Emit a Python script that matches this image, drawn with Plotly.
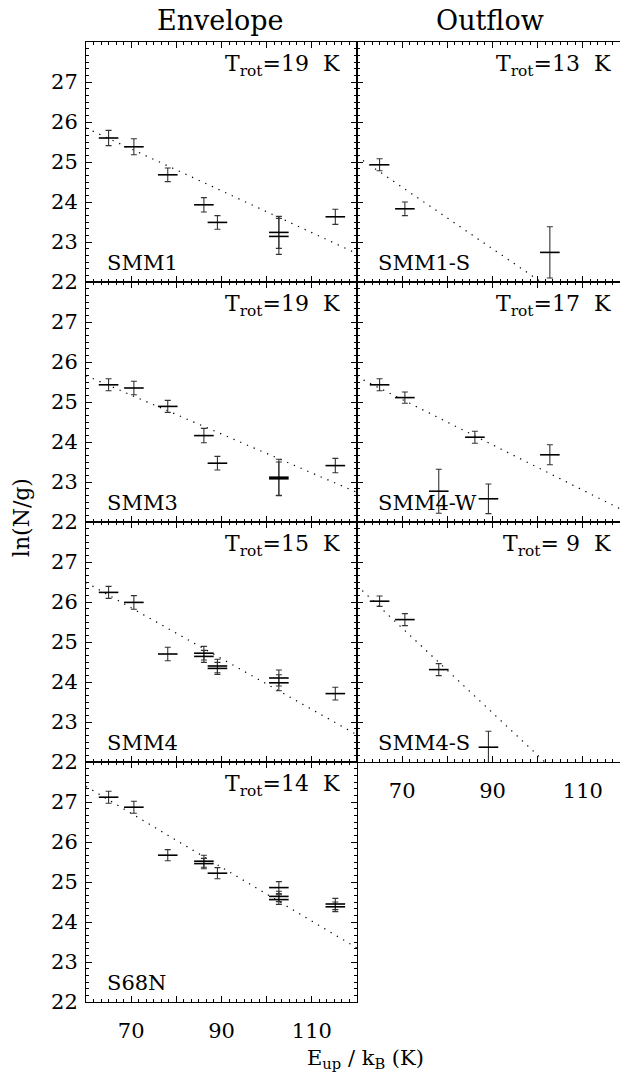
import plotly.graph_objects as go
from plotly.subplots import make_subplots

# ---------------- data ----------------
fit_E = [60, 120]

smm1_E = [65.0, 70.6, 78.1, 86.1, 89.1, 102.7, 102.7, 115.2]
smm1_ln = [25.60, 25.38, 24.68, 23.93, 23.49, 23.24, 23.14, 23.63]
smm1_err = [0.19, 0.20, 0.17, 0.18, 0.17, 0.40, 0.45, 0.19]
smm1_fit = [25.85, 22.71]

smm1s_E = [65.0, 70.6, 102.7]
smm1s_ln = [24.93, 23.83, 22.74]
smm1s_err = [0.15, 0.17, 0.64]
smm1s_fit = [25.14, 20.52]

smm3_E = [65.0, 70.6, 78.1, 86.1, 89.1, 102.7, 102.7, 115.2]
smm3_ln = [25.43, 25.35, 24.89, 24.16, 23.47, 23.12, 23.08, 23.41]
smm3_err = [0.15, 0.17, 0.15, 0.18, 0.17, 0.45, 0.42, 0.18]
smm3_fit = [25.66, 22.74]

smm4w_E = [65.0, 70.6, 78.1, 86.1, 89.1, 102.7]
smm4w_ln = [25.43, 25.11, 22.77, 24.12, 22.58, 23.68]
smm4w_err = [0.15, 0.14, 0.55, 0.15, 0.37, 0.25]
smm4w_fit = [25.63, 22.23]

smm4_E = [65.0, 70.6, 78.1, 86.1, 86.1, 89.1, 89.1, 102.7, 102.7, 115.2]
smm4_ln = [26.24, 25.99, 24.70, 24.72, 24.64, 24.40, 24.34, 24.10, 23.98, 23.71]
smm4_err = [0.15, 0.17, 0.17, 0.17, 0.15, 0.17, 0.15, 0.20, 0.20, 0.16]
smm4_fit = [26.49, 22.68]

smm4s_E = [65.0, 70.6, 78.1, 89.1]
smm4s_ln = [26.02, 25.56, 24.31, 22.37]
smm4s_err = [0.13, 0.15, 0.15, 0.40]
smm4s_fit = [26.41, 20.05]

s68n_E = [65.0, 70.6, 78.1, 86.1, 86.1, 89.1, 102.7, 102.7, 102.7, 115.2, 115.2]
s68n_ln = [27.12, 26.87, 25.67, 25.52, 25.46, 25.22, 24.86, 24.64, 24.56, 24.45, 24.38]
s68n_err = [0.15, 0.15, 0.14, 0.15, 0.13, 0.14, 0.15, 0.13, 0.12, 0.14, 0.12]
s68n_fit = [27.39, 23.35]

panel_names = ["SMM1", "SMM1-S", "SMM3", "SMM4-W", "SMM4", "SMM4-S", "S68N"]
panel_trot = ["19", "13", "19", "17", "15", " 9", "14"]
panel_pos = [(1, 1), (1, 2), (2, 1), (2, 2), (3, 1), (3, 2), (4, 1)]
panel_data = [
    (smm1_E, smm1_ln, smm1_err, smm1_fit),
    (smm1s_E, smm1s_ln, smm1s_err, smm1s_fit),
    (smm3_E, smm3_ln, smm3_err, smm3_fit),
    (smm4w_E, smm4w_ln, smm4w_err, smm4w_fit),
    (smm4_E, smm4_ln, smm4_err, smm4_fit),
    (smm4s_E, smm4s_ln, smm4s_err, smm4s_fit),
    (s68n_E, s68n_ln, s68n_err, s68n_fit),
]

x_tickvals = [70, 80, 90, 100, 110]
x_ticktext = ["70", "", "90", "", "110"]
y_tickvals = [22, 23, 24, 25, 26, 27]

FONT = "DejaVu Serif"

fig = make_subplots(rows=4, cols=2, horizontal_spacing=0, vertical_spacing=0,
                    specs=[[{}, {}], [{}, {}], [{}, {}], [{}, None]])

for i, (name, trot, (r, c), (E, ln, err, fit)) in enumerate(
        zip(panel_names, panel_trot, panel_pos, panel_data)):
    fig.add_trace(go.Scatter(x=fit_E, y=fit, mode="lines",
                             line=dict(color="black", width=1.2, dash="1.3px,6px"),
                             showlegend=False, hoverinfo="skip"), row=r, col=c)
    fig.add_trace(go.Scatter(x=E, y=ln, mode="markers",
                             marker=dict(symbol="line-ew", size=14, color="black",
                                         line=dict(color="black", width=1.6)),
                             error_y=dict(type="data", array=err, visible=True,
                                          color="#333333", thickness=1.1, width=3),
                             showlegend=False, cliponaxis=True), row=r, col=c)
    show_x = (r == 4 and c == 1) or (r == 3 and c == 2)
    fig.update_xaxes(range=[60, 120], tickvals=x_tickvals, ticktext=x_ticktext,
                     showticklabels=show_x, ticks="inside", ticklen=6, tickwidth=1,
                     tickcolor="black", mirror="allticks", showline=True,
                     linecolor="black", linewidth=1, showgrid=False, zeroline=False,
                     minor=dict(dtick=10 / 6, tick0=60, ticks="inside", ticklen=3,
                                tickcolor="black", tickwidth=1),
                     tickfont=dict(family=FONT, size=21, color="black"),
                     ticklabelstandoff=10,
                     row=r, col=c)
    fig.update_yaxes(range=[22, 28], tickvals=y_tickvals,
                     showticklabels=(c == 1), ticks="inside", ticklen=6, tickwidth=1,
                     tickcolor="black", mirror="allticks", showline=True,
                     linecolor="black", linewidth=1, showgrid=False, zeroline=False,
                     minor=dict(dtick=1 / 6, tick0=22, ticks="inside", ticklen=3,
                                tickcolor="black", tickwidth=1),
                     tickfont=dict(family=FONT, size=21, color="black"),
                     ticklabelstandoff=3,
                     row=r, col=c)
    ax = "" if i == 0 else str(i + 1)
    fig.add_annotation(xref=f"x{ax} domain", yref=f"y{ax} domain", x=0.07, y=0.08,
                       xanchor="left", yanchor="middle", showarrow=False,
                       text=name, font=dict(family=FONT, size=21, color="black"))
    fig.add_annotation(xref=f"x{ax} domain", yref=f"y{ax} domain", x=0.945, y=0.97,
                       xanchor="right", yanchor="top", showarrow=False,
                       text=f"T<sub>rot</sub>={trot}  K",
                       font=dict(family=FONT, size=22, color="black"))

fig.add_annotation(xref="paper", yref="paper", x=0.247, y=1.022, xanchor="center",
                   yanchor="middle", showarrow=False, text="Envelope",
                   font=dict(family=FONT, size=27, color="black"))
fig.add_annotation(xref="paper", yref="paper", x=0.745, y=1.022, xanchor="center",
                   yanchor="middle", showarrow=False, text="Outflow",
                   font=dict(family=FONT, size=27, color="black"))
fig.add_annotation(xref="paper", yref="paper", x=-0.12, y=0.505, xanchor="center",
                   yanchor="middle", showarrow=False, text="ln(N/g)", textangle=-90,
                   font=dict(family=FONT, size=22, color="black"))
fig.add_annotation(xref="paper", yref="paper", x=0.515, y=-0.059, xanchor="center",
                   yanchor="middle", showarrow=False,
                   text="E<sub>up</sub> / k<sub>B</sub> (K)",
                   font=dict(family=FONT, size=21, color="black"))

# the page body adds an 8px offset, so the figure is sized to fit the window
fig.update_layout(width=620, height=1073, paper_bgcolor="white", plot_bgcolor="white",
                  margin=dict(l=78, r=0, t=34, b=79), showlegend=False)

fig.write_html("out.html")
